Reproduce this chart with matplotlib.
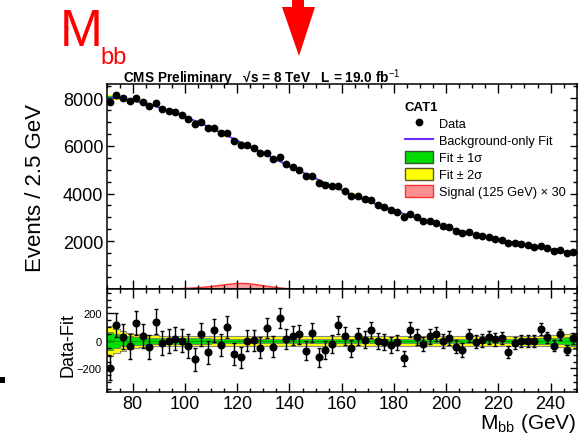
import numpy as np
import matplotlib
matplotlib.use('Agg')
import matplotlib.pyplot as plt
from matplotlib.ticker import MultipleLocator, FuncFormatter
from matplotlib.patches import Polygon, Rectangle
from matplotlib.lines import Line2D
from matplotlib.patches import Patch

plt.rcParams['font.family'] = ['Liberation Sans', 'DejaVu Sans']
plt.rcParams['mathtext.fontset'] = 'custom'
plt.rcParams['mathtext.rm'] = 'Liberation Sans'
plt.rcParams['mathtext.it'] = 'Liberation Sans:italic'
plt.rcParams['mathtext.bf'] = 'Liberation Sans:bold'

# bins: 2.5 GeV from 70 to 250
bin_lo = 70.0
bin_w = 2.5
n_bins = 72

# background-only fit at bin centres (events / 2.5 GeV)
fit = [8020, 8000, 7960, 7910, 7860, 7800, 7730, 7650, 7565, 7475, 7380, 7275,
       7165, 7050, 6935, 6810, 6680, 6550, 6420, 6290, 6155, 6025, 5890, 5755,
       5620, 5485, 5350, 5215, 5085, 4955, 4825, 4695, 4570, 4445, 4320, 4200,
       4085, 3970, 3860, 3750, 3645, 3540, 3440, 3340, 3245, 3150, 3060, 2970,
       2885, 2800, 2720, 2640, 2565, 2490, 2420, 2350, 2285, 2220, 2160, 2100,
       2040, 1985, 1930, 1880, 1830, 1780, 1735, 1690, 1645, 1600, 1555, 1510]

# data - fit per bin
resid = [-196, 116, 31, -39, 131, 34, -41, 141, -17, 2, 17, 2,
         -36, -133, 49, -82, 78, -29, 104, -97, -119, 2, 5, -49,
         95, -41, 167, 17, 39, 49, -71, 60, -119, -68, -20, 116,
         34, -53, 34, 10, 80, -2, -10, -27, -10, -126, 82, 29,
         -22, 34, 51, -2, 20, -41, -65, 39, -5, 7, 27, 12,
         22, -78, -15, 2, -2, -2, 87, 27, -34, 49, -65, 20]

# fit uncertainty half widths (1 sigma, 2 sigma)
sig1 = [62, 50, 40, 34, 30, 27, 25, 23, 22, 21, 20, 19.5,
        19, 19, 18.5, 18.5, 18, 18, 18, 18, 18, 18, 18, 18,
        18, 18, 18, 18, 18, 18, 18, 18, 18, 18, 18, 18,
        18, 18, 18, 18, 18, 18, 18, 18, 18, 18, 18, 18,
        18, 18, 18, 18, 18, 18, 18, 18, 18, 18, 18, 18,
        18, 18, 18, 18, 18.5, 19, 20, 21, 23, 25, 28, 33]
sig2 = [110, 85, 70, 58, 50, 45, 42, 40, 38, 37, 36, 35,
        35, 35, 34, 34, 34, 34, 34, 34, 34, 34, 34, 34,
        34, 34, 34, 34, 34, 34, 34, 34, 34, 34, 34, 34,
        34, 34, 34, 34, 34, 34, 34, 34, 34, 34, 34, 34,
        34, 34, 34, 34, 34, 34, 34, 34, 34, 34, 34, 34,
        34, 34, 34, 34, 35, 36, 38, 40, 43, 46, 50, 58]

# signal (125 GeV) x 30, bin centres
signal = [0, 0, 0, 0, 0, 0, 5, 10, 15, 22, 30, 40,
          55, 70, 90, 115, 145, 180, 215, 245, 255, 245, 215, 175,
          135, 95, 65, 40, 22, 12, 6, 2, 0, 0, 0, 0,
          0, 0, 0, 0, 0, 0, 0, 0, 0, 0, 0, 0,
          0, 0, 0, 0, 0, 0, 0, 0, 0, 0, 0, 0,
          0, 0, 0, 0, 0, 0, 0, 0, 0, 0, 0, 0]

x = bin_lo + bin_w * (np.arange(n_bins) + 0.5)
edges = bin_lo + bin_w * np.arange(n_bins + 1)
fit = np.array(fit, float)
resid = np.array(resid, float)
sig1 = np.array(sig1, float)
sig2 = np.array(sig2, float)
signal = np.array(signal, float)
data = fit + resid
err = np.sqrt(data)

W, H = 578, 435
fig = plt.figure(figsize=(W / 100, H / 100), dpi=100)

def fx(px):
    return px / W

def fy(py):
    return 1 - py / H

left, right = 106.7, 576.7
ax1 = fig.add_axes([fx(left), fy(290), fx(right - left), (290 - 85) / H])
ax2 = fig.add_axes([fx(left), fy(393), fx(right - left), (393 - 290) / H], sharex=ax1)

yellow = '#ffff00'
green = '#00dd00'
purple = '#6a2cff'

def step(a):
    return np.append(a, a[-1])

# upper panel
ax1.fill_between(edges, step(fit - sig2), step(fit + sig2), step='post', color=yellow, lw=0)
ax1.fill_between(edges, step(fit - sig1), step(fit + sig1), step='post', color=green, lw=0)
ax1.fill_between(x, 0, signal, facecolor='#ffa0a0', edgecolor='#ff3030', lw=1.0)
ax1.plot(x, fit, color=purple, lw=1.3)
ax1.errorbar(x, data, yerr=err, fmt='o', color='black', ms=4.6, elinewidth=1, capsize=0)
ax1.set_xlim(70, 250)
ax1.set_ylim(0, 8590)
ax1.yaxis.set_major_locator(MultipleLocator(2000))
ax1.yaxis.set_minor_locator(MultipleLocator(500))
ax1.yaxis.set_major_formatter(FuncFormatter(lambda v, p: '' if v == 0 else '%d' % v))
ax1.xaxis.set_major_locator(MultipleLocator(20))
ax1.xaxis.set_minor_locator(MultipleLocator(5))
ax1.tick_params(axis='x', labelbottom=False)

# lower panel
ax2.fill_between(edges, step(-sig2), step(sig2), step='post', facecolor=yellow, edgecolor='#888888', lw=0.8)
ax2.fill_between(edges, step(-sig1), step(sig1), step='post', facecolor=green, edgecolor='#777777', lw=0.6)
ax2.axhline(0, color='#00a000', lw=0.6)
ax2.errorbar(x, resid, yerr=err, fmt='o', color='black', ms=4.8, elinewidth=1, capsize=1.5)
ax2.set_ylim(-371, 378)
ax2.yaxis.set_major_locator(MultipleLocator(200))
ax2.yaxis.set_minor_locator(MultipleLocator(50))

for ax in (ax1, ax2):
    ax.tick_params(which='both', direction='in', top=True, right=True)
    ax.tick_params(axis='x', which='major', length=6.5, width=1)
    ax.tick_params(axis='x', which='minor', length=3.2, width=1)
    ax.tick_params(axis='y', which='major', length=5, width=1)
    ax.tick_params(axis='y', which='minor', length=2.8, width=1)
    for s in ax.spines.values():
        s.set_linewidth(1.1)

ax1.tick_params(axis='y', labelsize=13, pad=2.5)
ax2.tick_params(axis='y', labelsize=8, pad=3.5)
ax2.tick_params(axis='x', labelsize=13, pad=2)

# legend
handles = [
    Line2D([], [], ls='none', marker='o', color='black', ms=4.6),
    Line2D([], [], color=purple, lw=1.5),
    Patch(facecolor=green, edgecolor='#335533', lw=1),
    Patch(facecolor=yellow, edgecolor='#555533', lw=1),
    Patch(facecolor='#ff9090', edgecolor='#ff3030', lw=1),
]
labels = ['Data', 'Background-only Fit', 'Fit \u00b1 1\u03c3', 'Fit \u00b1 2\u03c3',
          'Signal (125 GeV) \u00d7 30']
leg = ax1.legend(handles, labels, title='CAT1', loc='upper left',
                 bbox_to_anchor=(0.615, 0.96), frameon=False, fontsize=9.2,
                 title_fontproperties={'weight': 'bold', 'size': 9.5},
                 handlelength=2.2, handleheight=1.1, handletextpad=0.5,
                 labelspacing=0.28, borderpad=0.2, alignment='left')

# titles and labels
fig.text(fx(123), fy(78), 'CMS Preliminary   \u221as = 8 TeV   L = 19.0 fb$^{-1}$',
         fontsize=9.8, fontweight='bold', va='center', ha='left')
fig.text(fx(36), fy(188), 'Events / 2.5 GeV', rotation=90, fontsize=16,
         ha='center', va='center')
fig.text(fx(68), fy(345), 'Data-Fit', rotation=90, fontsize=13,
         ha='center', va='center')
fig.text(fx(577), fy(435), 'M$_{\\mathregular{bb}}$ (GeV)', fontsize=15,
         ha='right', va='bottom')

# red M_bb and arrow
fig.text(fx(60), fy(46), 'M', fontsize=37, color='#ff0000', va='baseline')
fig.text(fx(100), fy(64), 'bb', fontsize=17, color='#ff0000', va='baseline')
arrow = [(292, 0), (304, 0), (304, 8), (315, 8), (299, 57), (282, 8), (292, 8)]
fig.patches.append(Polygon([(fx(a), fy(b)) for a, b in arrow], closed=True,
                           transform=fig.transFigure, facecolor='#ff0000',
                           edgecolor='none'))
fig.patches.append(Rectangle((fx(0), fy(384)), fx(5), 6 / H,
                             transform=fig.transFigure, facecolor='black'))

fig.savefig('out.png', dpi=100)
